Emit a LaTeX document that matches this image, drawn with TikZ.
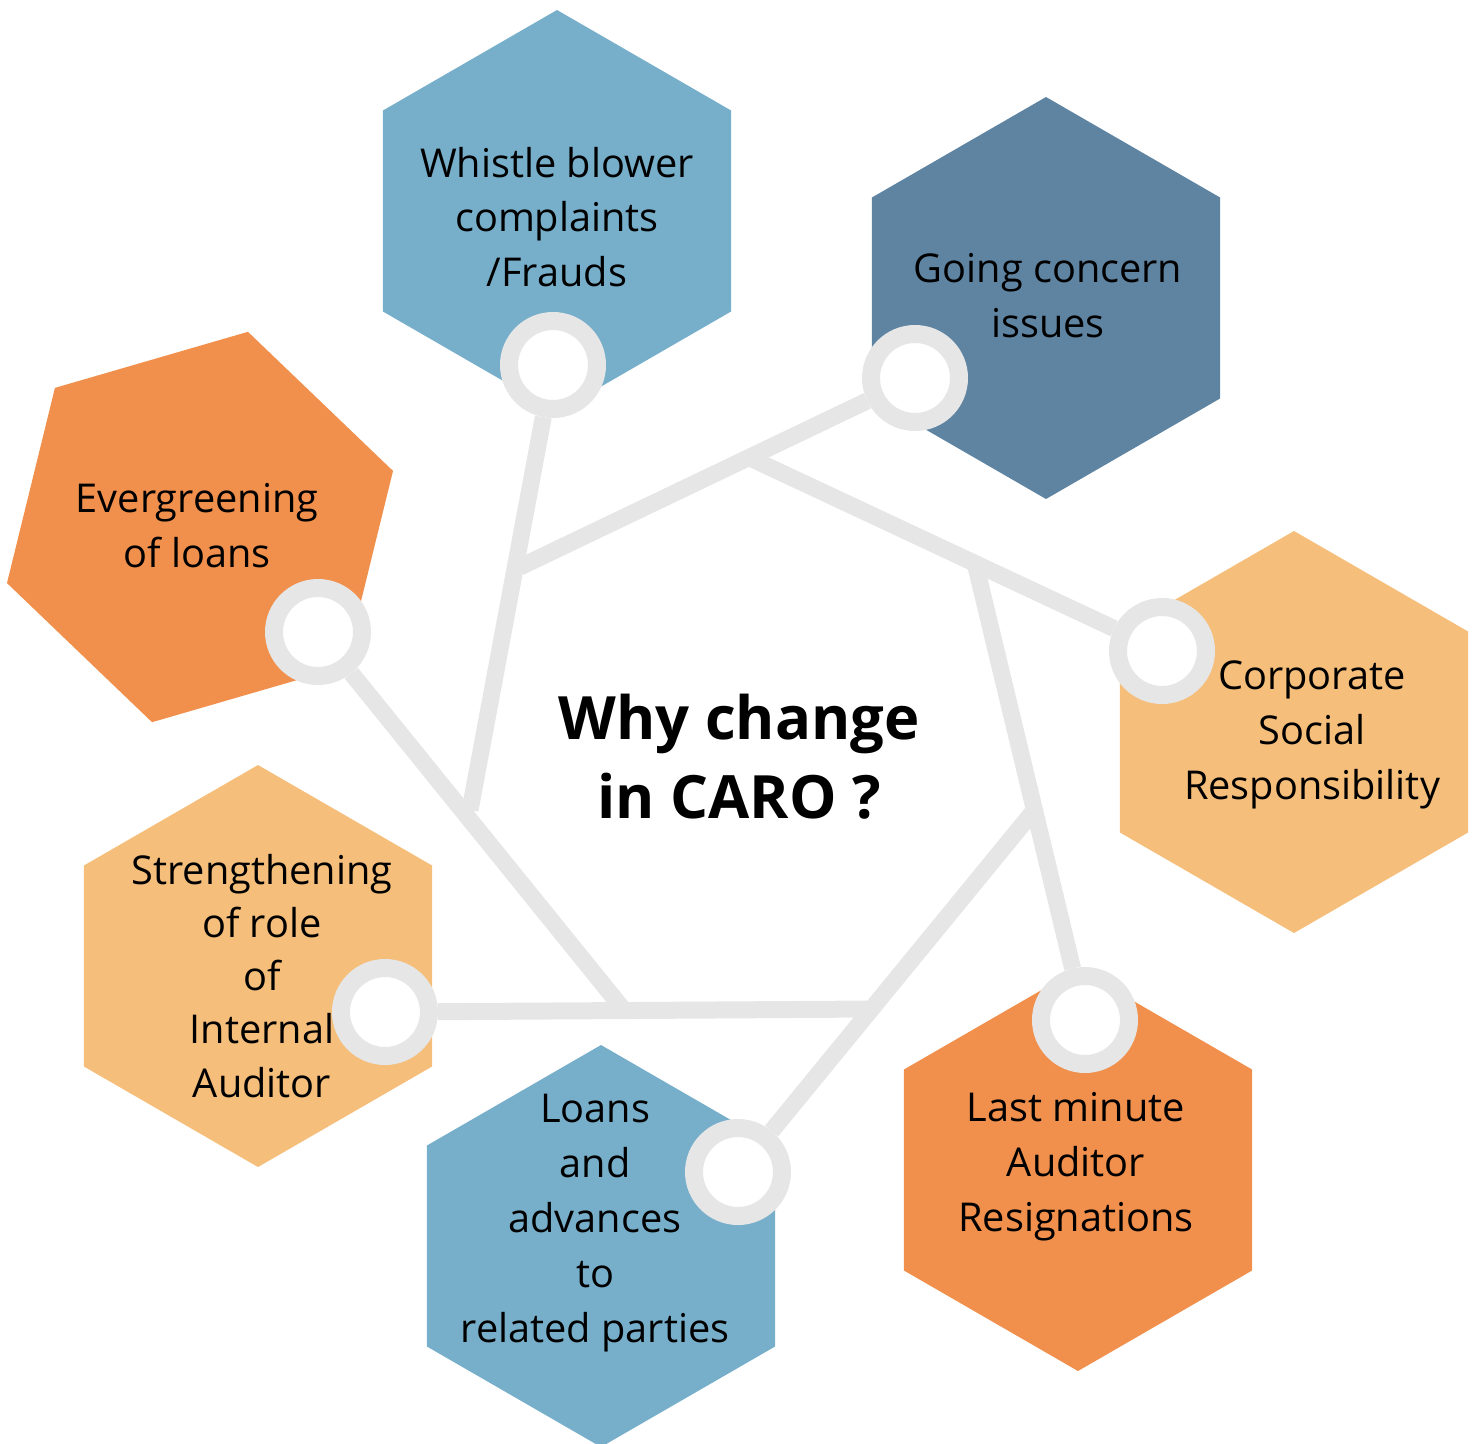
\documentclass[tikz,border=0pt]{standalone}
\usepackage{fontspec}
\setmainfont{Open Sans}
\usepackage{tikz}
\usetikzlibrary{shapes.geometric}

\definecolor{hexblue}{HTML}{77AFCB}
\definecolor{hexnavy}{HTML}{5F84A2}
\definecolor{hexsand}{HTML}{F5BE7A}
\definecolor{hexorange}{HTML}{F0904C}
\definecolor{linegray}{HTML}{E6E6E6}

\tikzset{
  hexa/.style={regular polygon,regular polygon sides=6,shape border rotate=30,
    minimum size=4.02cm,inner sep=0pt,draw=none},
  txt/.style={align=center,inner sep=0pt,font=\fontsize{11.3}{15.6}\selectfont},
  link/.style={draw=linegray,line width=0.17cm},
  ring/.style={circle,draw=linegray,line width=0.18cm,fill=white,
    minimum size=0.88cm,inner sep=0pt}
}

\begin{document}
\begin{tikzpicture}
        \useasboundingbox (0,0) rectangle (14.78,-14.43);

        % hexagons
        \node[hexa,fill=hexblue] (whistle) at (5.57,-2.11) {};
        \node[hexa,fill=hexnavy] (going) at (10.46,-2.98) {};
        \node[hexa,fill=hexsand] (csr) at (12.94,-7.32) {};
        \node[hexa,fill=hexorange] (last) at (10.78,-11.70) {};
        \node[hexa,fill=hexblue] (loans) at (6.01,-12.46) {};
        \node[hexa,fill=hexsand] (strength) at (2.58,-9.66) {};
        \node[hexa,fill=hexorange,shape border rotate=16.2] (ever) at (2.00,-5.27) {};

        % texts
        \node[txt] (whistle-t) at (5.57,-2.17) {Whistle blower\\complaints\\/Frauds};
        \node[txt] (going-t) at (10.48,-2.96) {Going concern\\issues};
        \node[txt] (csr-t) at (13.12,-7.35) {Corporate\\Social\\Responsibility};
        \node[txt] (last-t) at (10.76,-11.67) {Last minute\\Auditor\\Resignations};
        \node[txt] (loans-t) at (5.95,-12.23) {Loans\\and\\advances\\to\\related parties};
        \node[txt,font=\fontsize{11.3}{15.1}\selectfont] (strength-t) at (2.62,-9.76) {Strengthening\\of role\\of\\Internal\\Auditor};
        \node[txt] (ever-t) at (1.97,-5.26) {Evergreening\\of loans};
        \node[align=center,font=\bfseries\fontsize{17}{22.4}\selectfont] (caro) at (7.39,-7.57) {Why change\\in CARO ?};

        % heptagon corners
        \coordinate (v1) at (7.50,-4.58);
        \coordinate (v2) at (9.76,-5.67);
        \coordinate (v3) at (10.32,-8.13);
        \coordinate (v4) at (8.75,-10.09);
        \coordinate (v5) at (6.23,-10.09);
        \coordinate (v6) at (4.70,-8.10);
        \coordinate (v7) at (5.20,-5.67);

        % rings
        \node[ring] (whistle-c) at (5.53,-3.65) {};
        \node[ring] (going-c) at (9.15,-3.78) {};
        \node[ring] (csr-c) at (11.62,-6.51) {};
        \node[ring] (last-c) at (10.85,-10.20) {};
        \node[ring] (loans-c) at (7.38,-11.72) {};
        \node[ring] (strength-c) at (3.85,-10.12) {};
        \node[ring] (ever-c) at (3.18,-6.32) {};

        \draw[link](v7)--(going-c);
        \draw[link](v1)--(csr-c);
        \draw[link](v2)--(last-c);
        \draw[link](v3)--(loans-c);
        \draw[link](v4)--(strength-c);
        \draw[link](v5)--(ever-c);
        \draw[link](v6)--(whistle-c);
      \end{tikzpicture}
\end{document}
